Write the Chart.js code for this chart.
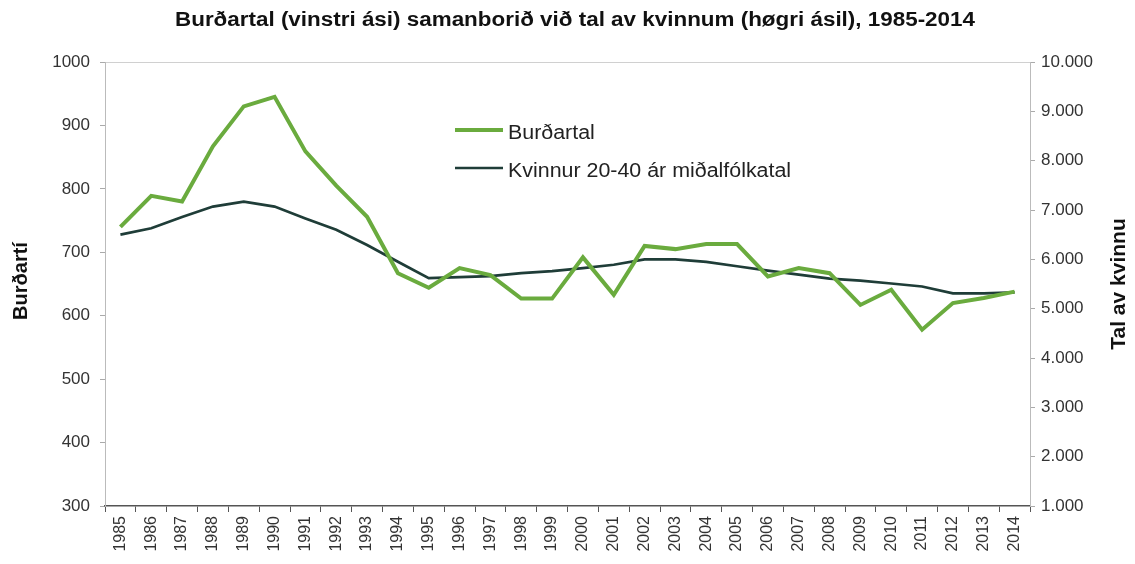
<!DOCTYPE html>
<html>
<head>
<meta charset="utf-8">
<script src="https://cdn.jsdelivr.net/npm/chart.js@4"></script>
<style>
  html, body { margin: 0; padding: 0; background: #fff; }
  #wrap { width: 1135px; height: 564px; }
</style>
</head>
<body>
<div id="wrap"><canvas id="birthChart" width="1135" height="564"></canvas></div>
<script>
// Data
const years = ["1985","1986","1987","1988","1989","1990","1991","1992","1993","1994",
               "1995","1996","1997","1998","1999","2000","2001","2002","2003","2004",
               "2005","2006","2007","2008","2009","2010","2011","2012","2013","2014"];
const births = [740, 789, 780, 867, 930, 945, 859, 805, 756, 667,
                644, 675, 664, 627, 627, 692, 633, 710, 705, 713,
                713, 662, 675, 667, 617, 641, 578, 620, 628, 638];
const women = [6500, 6630, 6860, 7070, 7170, 7070, 6830, 6600, 6290, 5950,
               5620, 5640, 5660, 5720, 5760, 5820, 5890, 6000, 6000, 5950,
               5860, 5770, 5690, 5610, 5570, 5510, 5450, 5310, 5310, 5330];
const leftTicks = [300, 400, 500, 600, 700, 800, 900, 1000];
const rightTicks = [1000, 2000, 3000, 4000, 5000, 6000, 7000, 8000, 9000, 10000];

const chartTitle = "Burðartal (vinstri ási) samanborið við tal av kvinnum (høgri ásil), 1985-2014";
const leftTitle = "Burðartí";
const rightTitle = "Tal av kvinnu";

const GREEN = "#6aab3e";
const DARK = "#1f3d38";
const FONT = "'Liberation Sans', Arial, sans-serif";

// title, axis titles and the legend drawn by hand
const decorations = {
    id: "decorations",
    afterDraw(chart) {
        const ctx = chart.ctx;
        ctx.save();
        ctx.fillStyle = "#111";
        ctx.textBaseline = "middle";
        ctx.textAlign = "center";

        // title is stretched a bit to the width of the original
        ctx.font = "bold 20px " + FONT;
        const tw = ctx.measureText(chartTitle).width;
        ctx.save();
        ctx.translate(575, 20);
        ctx.scale(800 / tw, 1);
        ctx.fillText(chartTitle, 0, 0);
        ctx.restore();

        ctx.font = "bold 20px " + FONT;
        ctx.save();
        ctx.translate(21, 281);
        ctx.rotate(-Math.PI / 2);
        ctx.fillText(leftTitle, 0, 0);
        ctx.restore();
        ctx.font = "bold 21px " + FONT;
        ctx.save();
        ctx.translate(1119, 284);
        ctx.rotate(-Math.PI / 2);
        ctx.fillText(rightTitle, 0, 0);
        ctx.restore();

        // legend
        const items = chart.data.datasets;
        ctx.textAlign = "left";
        ctx.font = "20px " + FONT;
        items.forEach(function (ds, i) {
            const y = 130 + i * 38;
            const label = ds.label;
            ctx.strokeStyle = ds.borderColor;
            ctx.lineWidth = ds.borderWidth;
            ctx.beginPath();
            ctx.moveTo(455, y);
            ctx.lineTo(503, y);
            ctx.stroke();
            ctx.fillStyle = "#222";
            ctx.save();
            ctx.translate(508, y + 3);
            ctx.scale(1.07, 1);
            ctx.fillText(label, 0, 0);
            ctx.restore();
        });
        ctx.restore();
    }
};

const ctx = document.getElementById("birthChart").getContext("2d");
new Chart(ctx, {
    type: "line",
    data: {
        labels: years,
        datasets: [
            {
                label: "Burðartal",
                data: births,
                yAxisID: "y",
                borderColor: GREEN,
                borderWidth: 4,
                pointRadius: 0,
                tension: 0,
            },
            {
                label: "Kvinnur 20-40 ár miðalfólkatal",
                data: women,
                yAxisID: "y2",
                borderColor: DARK,
                borderWidth: 2.7,
                pointRadius: 0,
                tension: 0,
            },
        ],
    },
    options: {
        responsive: false,
        animation: false,
        layout: { padding: { top: 62 } },
        plugins: {
            legend: { display: false },
            title: { display: false },
            tooltip: { enabled: false },
        },
        scales: {
            x: {
                type: "category",
                offset: true,
                afterFit: function (scale) { scale.height = 58; },
                grid: {
                    offset: true,
                    drawOnChartArea: false,
                    tickLength: 6,
                    tickColor: "#555",
                },
                border: { color: "#555", width: 1.5 },
                ticks: {
                    minRotation: 90,
                    maxRotation: 90,
                    autoSkip: false,
                    padding: 4,
                    color: "#333",
                    font: { family: FONT, size: 16 },
                },
            },
            y: {
                position: "left",
                min: 300,
                max: 1000,
                afterFit: function (scale) { scale.width = 105; },
                afterBuildTicks: function (scale) {
                    scale.ticks = leftTicks.map(function (v) { return { value: v }; });
                },
                grid: {
                    color: function (c) { return c.tick && c.tick.value === 1000 ? "#d0d0d0" : "rgba(0,0,0,0)"; },
                    tickColor: "#aaa",
                    tickLength: 5,
                },
                border: { color: "#bbb" },
                ticks: {
                    padding: 10,
                    color: "#333",
                    font: { family: FONT, size: 17 },
                    callback: function (v) { return String(v); },
                },
            },
            y2: {
                position: "right",
                min: 1000,
                max: 10000,
                afterFit: function (scale) { scale.width = 105; },
                afterBuildTicks: function (scale) {
                    scale.ticks = rightTicks.map(function (v) { return { value: v }; });
                },
                grid: {
                    drawOnChartArea: false,
                    tickColor: "#aaa",
                    tickLength: 5,
                },
                border: { color: "#bbb" },
                ticks: {
                    padding: 6,
                    color: "#333",
                    font: { family: FONT, size: 17 },
                    callback: function (v) {
                        return String(v).replace(/\B(?=(\d{3})+$)/g, ".");
                    },
                },
            },
        },
    },
    plugins: [decorations],
});
</script>
</body>
</html>
